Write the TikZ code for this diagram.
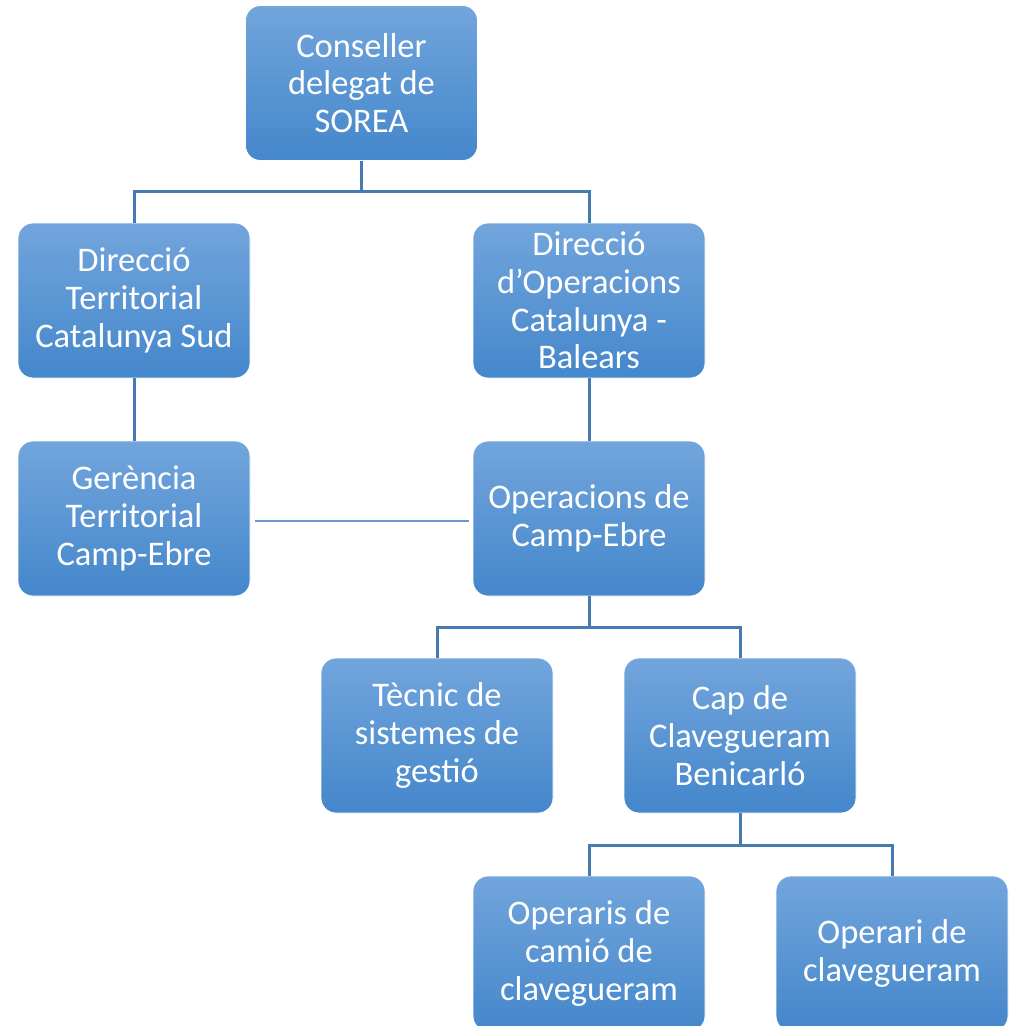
\documentclass[tikz,border=0pt]{standalone}
\usepackage{fontspec}
\setmainfont{Carlito}
\definecolor{boxtop}{RGB}{114,165,220}
\definecolor{boxmid}{RGB}{88,152,218}
\definecolor{boxbot}{RGB}{68,135,203}
\definecolor{linkcol}{RGB}{70,123,178}
\definecolor{thincol}{RGB}{110,152,204}
\begin{document}
\begin{tikzpicture}[x=1pt,y=-1pt,
  orgbox/.style={rectangle, rounded corners=15pt, minimum width=232pt, minimum height=155pt,
    inner sep=0pt, top color=boxtop, middle color=boxmid, bottom color=boxbot,
    draw=white, line width=0.8pt, text=white, align=center,
    font=\fontsize{34.5}{37.8}\selectfont},
  link/.style={draw=linkcol, line width=3pt},
  thinlink/.style={draw=thincol, line width=2pt}]
\useasboundingbox (0,0) rectangle (1013,1026);
\clip (0,0) rectangle (1013,1026);
\node[orgbox] (cons) at (361.5,83) {Conseller\\delegat de\\SOREA};
\node[orgbox] (dterr) at (134,300.5) {Direcció\\Territorial\\Catalunya Sud};
\node[orgbox] (doper) at (589,300.5) {Direcció\\d’Operacions\\Catalunya -\\Balears};
\node[orgbox] (ger) at (134,518.5) {Gerència\\Territorial\\Camp-Ebre};
\node[orgbox] (opce) at (589,518.5) {Operacions de\\Camp-Ebre};
\node[orgbox] (tec) at (437,735.5) {Tècnic de\\sistemes de\\gestió};
\node[orgbox] (cap) at (740,735.5) {Cap de\\Clavegueram\\Benicarló};
\node[orgbox] (opcam) at (589,953.5) {Operaris de\\camió de\\clavegueram};
\node[orgbox] (opclav) at (892,953.5) {Operari de\\clavegueram};
\coordinate (j1) at (361.5,191);
\coordinate (j2) at (589,627);
\coordinate (j3) at (740,845);
\draw[link] (cons.south) -- (j1);
\draw[link] (dterr.north) |- (j1) -| (doper.north);
\draw[link] (dterr.south) -- (ger.north);
\draw[link] (doper.south) -- (opce.north);
\draw[link] (opce.south) -- (j2);
\draw[link] (tec.north) |- (j2) -| (cap.north);
\draw[link] (cap.south) -- (j3);
\draw[link] (opcam.north) |- (j3) -| (opclav.north);
\draw[thinlink] ([xshift=5pt,yshift=-2.5pt]ger.east) -- ([xshift=-4pt,yshift=-2.5pt]opce.west);
\end{tikzpicture}
\end{document}
